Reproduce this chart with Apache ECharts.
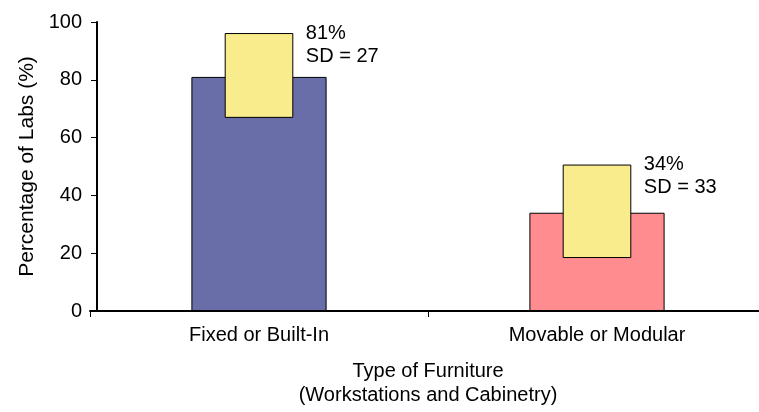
<!DOCTYPE html>
<html>
<head>
<meta charset="utf-8">
<script src="https://cdn.jsdelivr.net/npm/echarts@6/dist/echarts.min.js"></script>
<style>
    html, body {margin: 0; padding: 0; background: #fff; overflow: hidden;}
    #chart {width: 766px; height: 412px;}
</style>
</head>
<body>
<div id="chart"></div>
<script>
var categories = ['Fixed or Built-In', 'Movable or Modular'];
var percentValues = [81, 34];
var sdLow = [67, 18.5];
var sdHigh = [96, 50.5];
var pctLabels = ['81%', '34%'];
var sdLabels = ['SD = 27', 'SD = 33'];
var yTicks = [0, 20, 40, 60, 80, 100];

var barColors = ['#6a6ea8', '#ff8c8f'];
var fontName = '"Liberation Sans", Arial, sans-serif';

var myChart = echarts.init(document.getElementById('chart'), null, {renderer: 'canvas'});

function renderBox(params, api) {
    var i = params.dataIndex;
    var top = api.coord([api.value(0), api.value(2)]);
    var bottom = api.coord([api.value(0), api.value(1)]);
    var w = api.size([1, 0])[0] * 0.2;
    return {
        type: 'group',
        children: [
            {
                type: 'rect',
                shape: {x: top[0] - w / 2, y: top[1], width: w, height: bottom[1] - top[1]},
                style: {fill: '#f9ec8c', stroke: '#000', lineWidth: 1}
            },
            {
                type: 'text',
                x: top[0] + w / 2 + 13,
                y: top[1] - 12,
                style: {
                    text: pctLabels[i] + '\n' + sdLabels[i],
                    fill: '#000',
                    font: '20px ' + fontName,
                    lineHeight: 23,
                    textAlign: 'left',
                    textVerticalAlign: 'top'
                }
            }
        ]
    };
}

var option = {
    animation: false,
    backgroundColor: '#fff',
    textStyle: {fontFamily: fontName},
    grid: {left: 90, right: 0, top: 22, bottom: 100},
    xAxis: {
        type: 'category',
        data: categories,
        name: 'Type of Furniture\n(Workstations and Cabinetry)',
        nameLocation: 'middle',
        nameGap: 48,
        nameTextStyle: {color: '#000', fontSize: 20, lineHeight: 24, verticalAlign: 'top'},
        axisLine: {lineStyle: {color: '#000', width: 2}},
        axisTick: {show: true, length: 6, lineStyle: {color: '#000', width: 1}},
        axisLabel: {color: '#000', fontSize: 20, margin: 14}
    },
    yAxis: {
        type: 'value',
        min: 0,
        max: 100,
        interval: 20,
        offset: -7,
        name: 'Percentage of Labs (%)',
        nameLocation: 'middle',
        nameGap: 59,
        nameTextStyle: {color: '#000', fontSize: 21},
        splitLine: {show: false},
        axisLine: {show: true, lineStyle: {color: '#000', width: 2}},
        axisTick: {show: true, length: 6, lineStyle: {color: '#000', width: 1}},
        axisLabel: {
            color: '#000', fontSize: 20, margin: 15,
            formatter: function (v) { return yTicks.indexOf(v) >= 0 ? String(v) : ''; }
        }
    },
    series: [
        {
            type: 'bar',
            barWidth: '40%',
            data: percentValues.map(function (v, i) {
                return {value: v, itemStyle: {color: barColors[i]}};
            }),
            itemStyle: {borderColor: '#000', borderWidth: 1},
            z: 2
        },
        {
            type: 'custom',
            renderItem: renderBox,
            data: categories.map(function (c, i) { return [i, sdLow[i], sdHigh[i]]; }),
            z: 3
        }
    ]
};

myChart.setOption(option);
</script>
</body>
</html>
